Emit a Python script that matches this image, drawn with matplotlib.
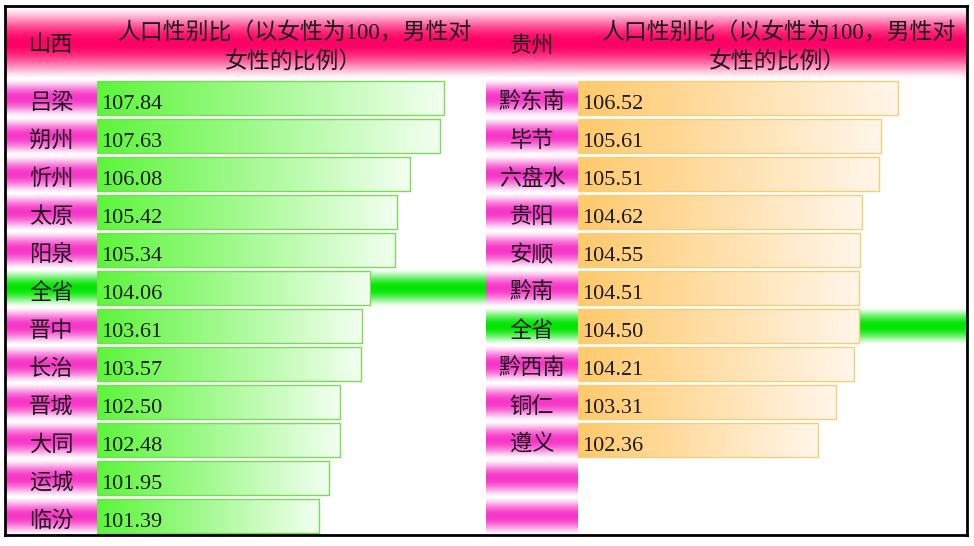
import numpy as np
import matplotlib.pyplot as plt
from matplotlib.colors import to_rgb

sx_names = ['吕梁', '朔州', '忻州', '太原', '阳泉', '全省', '晋中', '长治', '晋城', '大同', '运城', '临汾']
sx_vals = [107.84, 107.63, 106.08, 105.42, 105.34, 104.06, 103.61, 103.57, 102.50, 102.48, 101.95, 101.39]
gz_names = ['黔东南', '毕节', '六盘水', '贵阳', '安顺', '黔南', '全省', '黔西南', '铜仁', '遵义']
gz_vals = [106.52, 105.61, 105.51, 104.62, 104.55, 104.51, 104.50, 104.21, 103.31, 102.36]
n_rows = 12
title = '人口性别比（以女性为100，男性对\n女性的比例）'

FONT = ['Liberation Serif', 'Noto Sans CJK SC', 'DejaVu Sans']
TXT = '#1a1a1a'
W, H = 974, 546
fig = plt.figure(figsize=(W / 100, H / 100), dpi=100)


def box(x0, y0, x1, y1):
    ax = fig.add_axes([x0 / W, 1 - y1 / H, (x1 - x0) / W, (y1 - y0) / H])
    ax.set_axis_off()
    return ax


def vband(ax, x0, x1, y0, y1, color, power=1.4):
    s = np.linspace(0, 1, 101)
    t = np.sin(np.pi * s) ** power
    c = np.array(to_rgb(color))
    img = (1 - t)[:, None] * 1.0 + t[:, None] * c[None, :]
    ax.imshow(img[:, None, :], extent=(x0, x1, y1, y0), aspect='auto',
              interpolation='bilinear', zorder=0)


def hgrad(ax, patch, c0, c1):
    c0 = np.array(to_rgb(c0))
    c1 = np.array(to_rgb(c1))
    s = np.linspace(0, 1, 128)[:, None]
    img = (1 - s) * c0 + s * c1
    x, y = patch.get_x(), patch.get_y()
    w, h = patch.get_width(), patch.get_height()
    ax.imshow(img[None, :, :], extent=(x, x + w, y + h, y), aspect='auto',
              interpolation='bilinear', zorder=1)


def panel(x_lab, x_bar, x_end, names, vals, c0, c1, edge):
    lab = box(x_lab, 79, x_bar, 535)
    lab.set_xlim(0, 1)
    lab.set_ylim(n_rows - 0.5, -0.5)
    for i in range(n_rows):
        col = '#00E600' if i < len(names) and names[i] == '全省' else '#F736C8'
        vband(lab, 0, 1, i - 0.5, i + 0.5, col)
        if i < len(names):
            lab.text(0.5, i + 0.14, names[i], ha='center', va='center',
                     fontsize=16, family=FONT, color=TXT)

    ax = box(x_bar, 79, x_end, 535)
    ax.set_xlim(90, 110)
    ax.set_ylim(n_rows - 0.5, -0.5)
    y = np.arange(len(vals))
    bars = ax.barh(y, np.array(vals) - 90, left=90, height=0.88,
                   facecolor='none', edgecolor=edge, linewidth=1, zorder=3)
    for i, (p, v) in enumerate(zip(bars, vals)):
        if names[i] == '全省':
            vband(ax, 90, 110, i - 0.5, i + 0.5, '#00E600')
        hgrad(ax, p, c0, c1)
        ax.annotate(f'{v:.2f}', xy=(90, i + 0.17), xytext=(3, 0),
                    textcoords='offset points', ha='left', va='center',
                    fontsize=16, family=FONT, color=TXT, zorder=4)
    ax.set_xlim(90, 110)
    ax.set_ylim(n_rows - 0.5, -0.5)


# header band
hd = box(6, 7, 966, 79)
hd.set_xlim(6, 966)
hd.set_ylim(79, 7)
vband(hd, 6, 966, 7, 79, '#FF0066', power=1.3)
hd.set_xlim(6, 966)
hd.set_ylim(79, 7)
for xc, name, tc in [(51, '山西', 294), (532, '贵州', 778)]:
    hd.text(xc, 46, name, ha='center', va='center', fontsize=16, family=FONT, color=TXT)
    hd.text(tc, 48, title, ha='center', va='center', fontsize=16.5, family=FONT,
            color=TXT, linespacing=1.45)

panel(6, 97, 486, sx_names, sx_vals, '#5CF53A', '#F2FFF0', '#7ADB5A')
panel(486, 578, 966, gz_names, gz_vals, '#FFC96B', '#FFF6EA', '#F2CF7A')

# outer frame
fr = fig.add_axes([5 / W, 1 - 535 / H, 962 / W, 529 / H])
fr.patch.set_alpha(0)
fr.set_xticks([])
fr.set_yticks([])
for sp in fr.spines.values():
    sp.set_linewidth(2)
    sp.set_color('black')

fig.savefig('out.png', dpi=100)
